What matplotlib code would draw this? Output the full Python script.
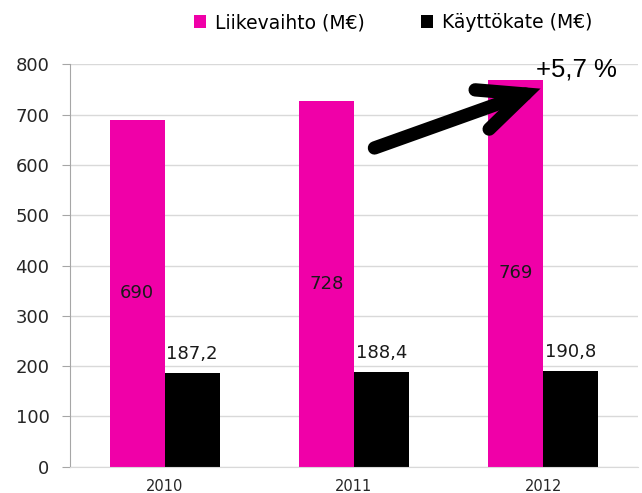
import matplotlib
matplotlib.use("Agg")
import matplotlib.pyplot as plt
import numpy as np

plt.rcParams["font.family"] = ["DejaVu Sans"]

# data
years = ["2010", "2011", "2012"]
liikevaihto = [690, 728, 769]
kayttokate = [187.2, 188.4, 190.8]
growth_label = "+5,7 %"

PINK = "#F000A8"
BLACK = "#000000"

fig = plt.figure(figsize=(6.42, 4.93), dpi=100)
ax = fig.add_axes([70 / 642, 26.3 / 493, 568 / 642, 402.2 / 493])

x = np.arange(len(years))
w = 0.29
b1 = ax.bar(x - w / 2, liikevaihto, width=w, color=PINK, label="Liikevaihto (M€)", zorder=2)
b2 = ax.bar(x + w / 2, kayttokate, width=w, color=BLACK, label="Käyttökate (M€)", zorder=2)

fmt = lambda v: f"{v:g}".replace(".", ",")
for xi, v in zip(x - w / 2, liikevaihto):
    ax.text(xi, v / 2, fmt(v), ha="center", va="center", fontsize=13, color="#1a1a1a", zorder=3)
for xi, v in zip(x + w / 2, kayttokate):
    ax.annotate(fmt(v), (xi, v), textcoords="offset points", xytext=(0, 13.4),
                ha="center", va="center", fontsize=13, color="#1a1a1a")

ax.set_xlim(-0.5, 2.5)
ax.set_ylim(0, 800)
ax.set_yticks(range(0, 801, 100))
ax.set_xticks(x)
ax.set_xticklabels(years)
ax.grid(axis="y", color="#D9D9D9", lw=1, zorder=0)
ax.set_axisbelow(True)
for s in ["top", "right"]:
    ax.spines[s].set_visible(False)
ax.spines["left"].set_color("#A6A6A6")
ax.spines["bottom"].set_color("#D9D9D9")
ax.tick_params(axis="y", length=5.8, color="#A6A6A6", pad=9, labelsize=13, labelcolor="#262626")
ax.tick_params(axis="x", length=0, pad=9, labelsize=10.5, labelcolor="#262626")

# growth arrow
ax.annotate("", xy=(1.985, 752), xytext=(1.108, 634),
            arrowprops=dict(arrowstyle="->,head_length=3.3,head_width=1.5", mutation_scale=10,
                            lw=9.6, color="black", capstyle="round", joinstyle="miter",
                            shrinkA=0, shrinkB=0), zorder=5)
ax.text(2.174, 791, growth_label, ha="center", va="center", fontsize=18.5,
        family="Liberation Sans", color="black", zorder=5)

fig.legend(handles=[b1, b2], loc="center", bbox_to_anchor=(0.612, 0.954), ncol=2, frameon=False,
           fontsize=13.5, handlelength=0.66, handleheight=0.66, handletextpad=0.45, columnspacing=3.0)

fig.savefig("out.png", dpi=100)
